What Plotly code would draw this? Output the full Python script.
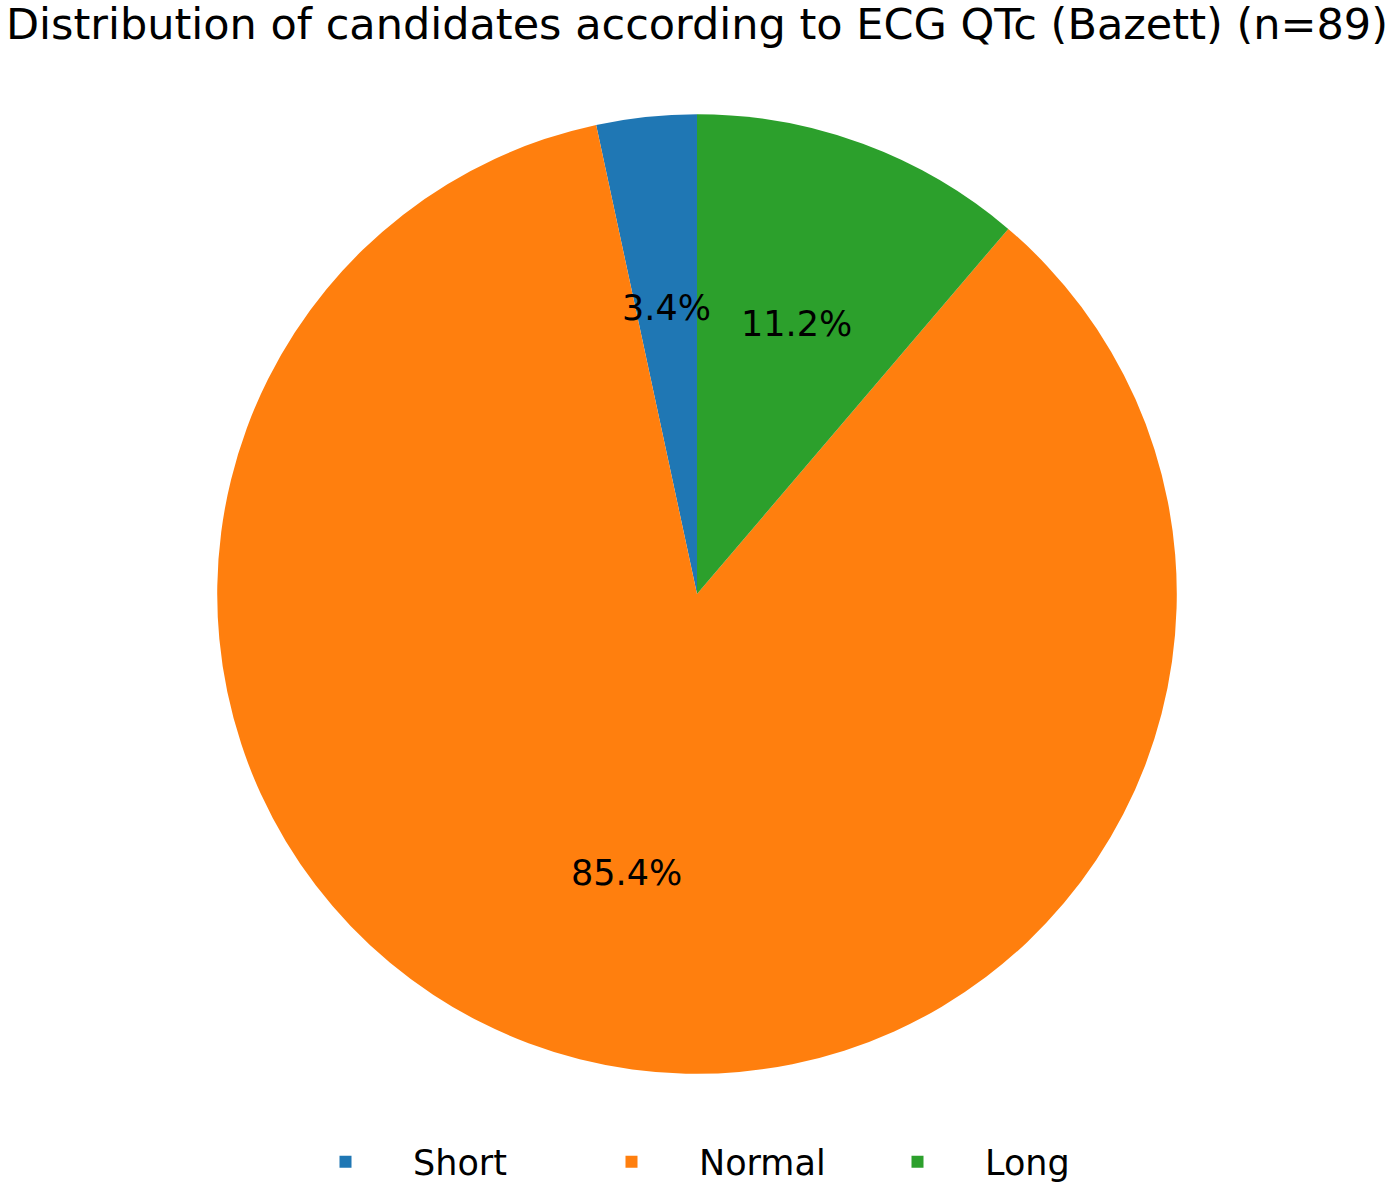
import numpy as np
import plotly.graph_objects as go

# QTc categories (n=89)
labels = ["Short", "Normal", "Long"]
counts = [3, 76, 10]
colors = ["#1f77b4", "#ff7f0e", "#2ca02c"]

W, H = 1394, 1192
cx, cy = 697, 595.5   # pie centre in pixels
R = 481               # pie radius in pixels

total = sum(counts)

fig = go.Figure()
fig.add_trace(go.Pie(
    labels=labels,
    values=counts,
    sort=False,
    direction="counterclockwise",
    # plotly offsets counter-clockwise pies by the first slice; undo it so
    # the first slice starts at 12 o'clock like matplotlib's startangle=90
    rotation=-360 * counts[0] / total,
    marker=dict(colors=colors, line=dict(width=0)),
    textinfo="none",
    hoverinfo="label+percent",
    domain=dict(x=[(cx - R) / W, (cx + R) / W],
                y=[1 - (cy + R) / H, 1 - (cy - R) / H]),
))

# percentage labels at 0.6 of the radius, counter-clockwise from 12 o'clock
start = 90.0
annotations = []
for c in counts:
    pct = c / total * 100
    mid = np.deg2rad(start + pct * 3.6 / 2)
    start += pct * 3.6
    annotations.append(dict(
        x=cx / W + 0.6 * R * np.cos(mid) / W,
        y=1 - cy / H + 0.6 * R * np.sin(mid) / H,
        xref="paper", yref="paper",
        text=f"{pct:.1f}%",
        showarrow=False,
        font=dict(size=35, color="black"),
        xanchor="center", yanchor="middle",
    ))

fig.update_layout(
    width=W, height=H,
    margin=dict(l=0, r=0, t=0, b=0),
    paper_bgcolor="white",
    plot_bgcolor="white",
    font=dict(family="DejaVu Sans", color="black"),
    title=dict(
        text="Distribution of candidates according to ECG QTc (Bazett) (n=89)",
        x=0.5, xanchor="center",
        y=1 - 24 / H, yanchor="middle",
        font=dict(size=43, color="black"),
    ),
    annotations=annotations,
    showlegend=True,
    legend=dict(
        orientation="h",
        x=0.5 + 10 / W, xanchor="center",
        y=1 - 1165 / H, yanchor="middle",
        font=dict(size=35),
        itemwidth=125,
        entrywidth=146,
        traceorder="normal",
    ),
)

fig.write_html("out.html", config={"displayModeBar": False},
               post_script="document.body.style.margin='0';")
